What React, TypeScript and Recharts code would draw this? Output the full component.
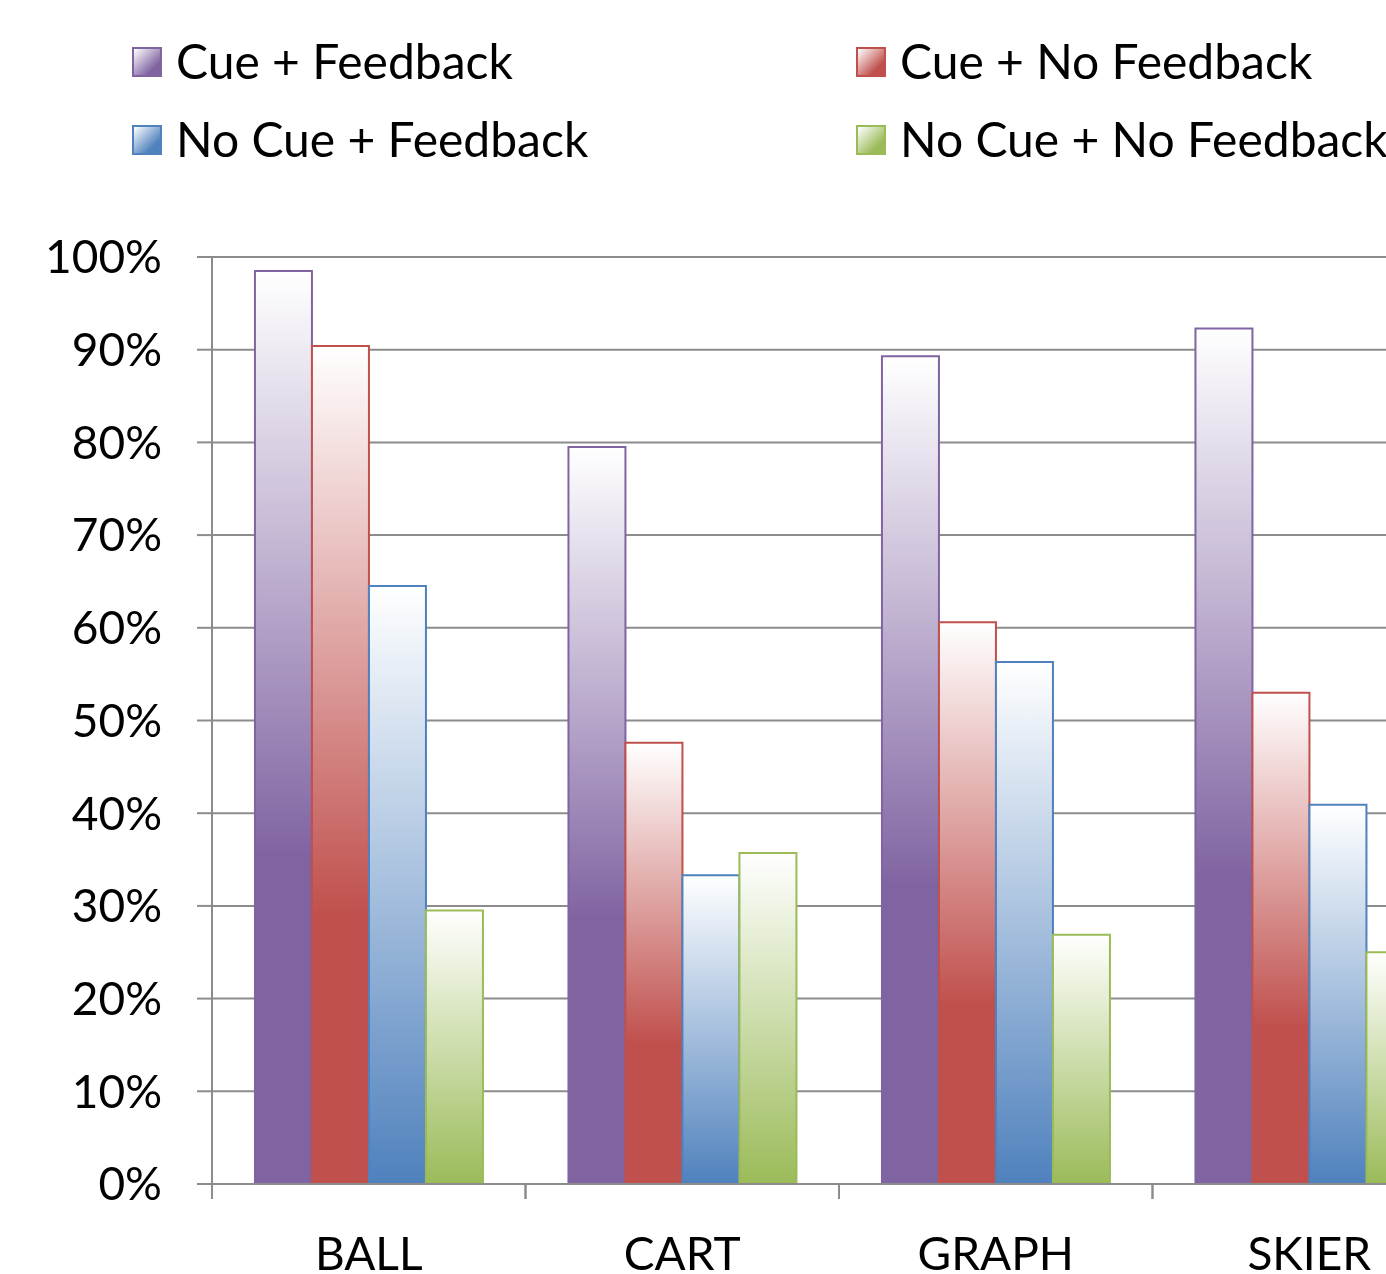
import React from "react";
import { BarChart, Bar, XAxis, YAxis, CartesianGrid, Legend } from "recharts";

const categories = ["BALL", "CART", "GRAPH", "SKIER"];
const cueFeedback = [98.5, 79.5, 89.3, 92.3];
const cueNoFeedback = [90.4, 47.6, 60.6, 53.0];
const noCueFeedback = [64.5, 33.3, 56.3, 40.9];
const noCueNoFeedback = [29.5, 35.7, 26.9, 25.0];
const yTicks = [0, 10, 20, 30, 40, 50, 60, 70, 80, 90, 100];

const seriesNames = ["Cue + Feedback", "Cue + No Feedback", "No Cue + Feedback", "No Cue + No Feedback"];
const seriesKeys = ["cf", "cnf", "ncf", "ncnf"];
const seriesColors = ["#8064A2", "#C0504D", "#4F81BD", "#9BBB59"];
const gradEnd = [0.64, 0.68, 1, 1];

const data = categories.map((c, i) => ({
  name: c,
  cf: cueFeedback[i],
  cnf: cueNoFeedback[i],
  ncf: noCueFeedback[i],
  ncnf: noCueNoFeedback[i],
}));

const FONT = "Lato, 'Noto Sans', sans-serif";
const CHART_W = 1470;
const CHART_H = 1266;
const Y_AXIS_W = 204;
const MARGIN = { top: 79, right: 12, bottom: 0, left: 0 };
const PLOT_W = CHART_W - Y_AXIS_W - MARGIN.right - MARGIN.left;
const BAND = PLOT_W / categories.length;

const legendItems = [
  { idx: 0, x: 124, y: 39 },
  { idx: 1, x: 848, y: 39 },
  { idx: 2, x: 124, y: 117 },
  { idx: 3, x: 848, y: 117 },
];

const LegendContent = () => (
  <div style={{ position: "relative", width: CHART_W, height: 170, fontFamily: FONT }}>
    {legendItems.map((it) => (
      <React.Fragment key={it.idx}>
        <div
          style={{
            position: "absolute",
            left: it.x,
            top: it.y,
            width: 26,
            height: 26,
            border: `2px solid ${seriesColors[it.idx]}`,
            background: `linear-gradient(135deg, #ffffff 0%, ${seriesColors[it.idx]} 75%)`,
          }}
        />
        <div
          style={{
            position: "absolute",
            left: it.x + 44,
            top: it.y - 16,
            height: 60,
            lineHeight: "60px",
            fontSize: 48,
            color: "#000",
            whiteSpace: "nowrap",
          }}
        >
          {seriesNames[it.idx]}
        </div>
      </React.Fragment>
    ))}
  </div>
);

const XTick = (props: any) => {
  const { x, y, payload } = props;
  return (
    <g>
      <line x1={x - BAND / 2} y1={y - 8} x2={x - BAND / 2} y2={y + 7} stroke="#8c8c8c" strokeWidth={2} />
      <line x1={x + BAND / 2} y1={y - 8} x2={x + BAND / 2} y2={y + 7} stroke="#8c8c8c" strokeWidth={2} />
      <text x={x} y={y + 78} textAnchor="middle" fontSize={46} fontFamily={FONT} fill="#000">
        {payload.value}
      </text>
    </g>
  );
};

export default function App() {
  return (
    <div style={{ position: "fixed", left: 8, top: 8, right: 0, bottom: 0, overflow: "hidden" }}>
      <BarChart
        width={CHART_W}
        height={CHART_H}
        data={data}
        margin={MARGIN}
        barCategoryGap="13.7%"
        barGap={0}
      >
        <defs>
          {seriesColors.map((c, i) => (
            <linearGradient key={i} id={`g${i}`} x1="0" y1="0" x2="0" y2="1">
              <stop offset="0" stopColor="#ffffff" />
              <stop offset={gradEnd[i]} stopColor={c} />
              <stop offset="1" stopColor={c} />
            </linearGradient>
          ))}
        </defs>
        <Legend verticalAlign="top" align="left" content={<LegendContent />} wrapperStyle={{ left: 0, top: 0, width: CHART_W, height: 170 }} />
        <CartesianGrid vertical={false} stroke="#8c8c8c" strokeWidth={2} />
        <XAxis
          dataKey="name"
          axisLine={{ stroke: "#8c8c8c", strokeWidth: 2 }}
          tickLine={false}
          tick={<XTick />}
          interval={0}
          height={90}
        />
        <YAxis
          width={Y_AXIS_W}
          domain={[0, 100]}
          ticks={yTicks}
          interval={0}
          tickFormatter={(v: number) => `${v}%`}
          axisLine={{ stroke: "#8c8c8c", strokeWidth: 2 }}
          tickLine={{ stroke: "#8c8c8c", strokeWidth: 2 }}
          tickSize={15}
          tickMargin={35}
          tick={{ fontSize: 46, fontFamily: FONT, fill: "#000" }}
        />
        {seriesKeys.map((k, i) => (
          <Bar
            key={k}
            dataKey={k}
            name={seriesNames[i]}
            fill={`url(#g${i})`}
            stroke={seriesColors[i]}
            strokeWidth={2}
            isAnimationActive={false}
          />
        ))}
      </BarChart>
    </div>
  );
}
